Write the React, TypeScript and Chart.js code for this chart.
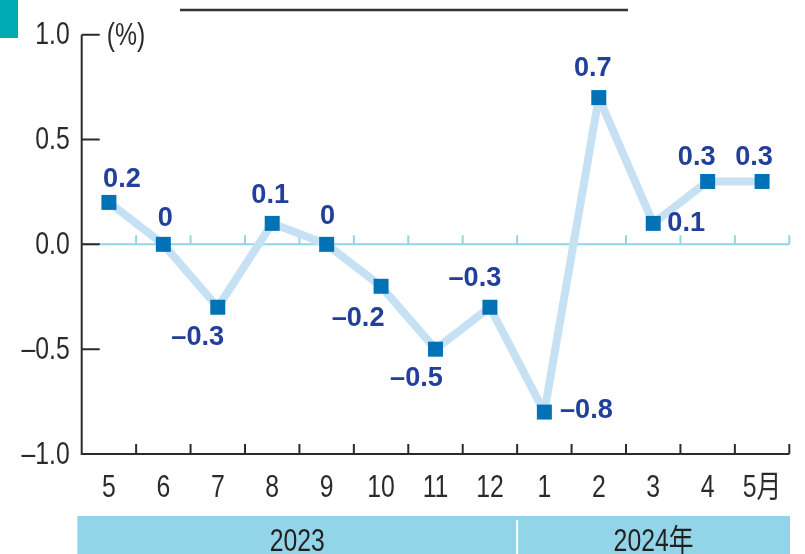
import React, { useEffect, useRef } from "react";
import { Chart, registerables } from "chart.js";

Chart.register(...registerables);

// ---- data ----
const months = ["5", "6", "7", "8", "9", "10", "11", "12", "1", "2", "3", "4", "5月"];
const values = [0.2, 0, -0.3, 0.1, 0, -0.2, -0.5, -0.3, -0.8, 0.7, 0.1, 0.3, 0.3];
const valueLabels = ["0.2", "0", "–0.3", "0.1", "0", "–0.2", "–0.5", "–0.3", "–0.8", "0.7", "0.1", "0.3", "0.3"];
const yTickValues = [-1, -0.5, 0, 0.5, 1];
const yTickLabels = ["–1.0", "–0.5", "0.0", "0.5", "1.0"];
const yearGroups = ["2023", "2024年"];
const yearSpans = [8, 5];
const unitLabel = "(%)";

// ---- label placement (style: offset of label centre from its point) ----
const labelOffsets: [number, number][] = [
  [13, -24], [2, -27], [-20, 29], [-2, -29], [1, -29], [-23, 31], [-19, 28],
  [-15, -30], [42, -3], [-6, -30], [33, -1], [-11, -25], [-8, -25],
];

const AXIS_FONT = "31px 'Liberation Sans', Arial, 'Noto Sans CJK SC', sans-serif";
const VALUE_FONT = "bold 28px 'Liberation Sans', Arial, sans-serif";
const AXIS_COLOR = "#2b2b2b";
const LABEL_COLOR = "#22409a";

function drawText(
  ctx: CanvasRenderingContext2D,
  text: string,
  x: number,
  y: number,
  align: CanvasTextAlign,
  baseline: CanvasTextBaseline,
  font: string,
  color: string,
  sx: number
) {
  ctx.save();
  ctx.font = font;
  ctx.fillStyle = color;
  ctx.textAlign = align;
  ctx.textBaseline = baseline;
  ctx.translate(x, y);
  ctx.scale(sx, 1);
  ctx.fillText(text, 0, 0);
  ctx.restore();
}

const decorPlugin = {
  id: "decor",
  beforeDatasetsDraw(chart: any) {
    const { ctx, chartArea, scales } = chart;
    const x = scales.x;
    const y = scales.y;
    const n = months.length;
    const y0 = y.getPixelForValue(0);
    ctx.save();
    ctx.strokeStyle = "#93d4e7";
    ctx.lineWidth = 2;
    ctx.beginPath();
    ctx.moveTo(chartArea.left, y0);
    ctx.lineTo(chartArea.right, y0);
    for (let i = 1; i <= n; i++) {
      const bx = i < n ? (x.getPixelForValue(i - 1) + x.getPixelForValue(i)) / 2 : chartArea.right;
      ctx.moveTo(bx, y0);
      ctx.lineTo(bx, y0 - 9);
    }
    ctx.stroke();
    ctx.restore();
  },
  afterDraw(chart: any) {
    const { ctx, chartArea, scales } = chart;
    const x = scales.x;
    const y = scales.y;
    const n = months.length;
    ctx.save();
    // axes
    ctx.strokeStyle = AXIS_COLOR;
    ctx.lineWidth = 2;
    ctx.beginPath();
    ctx.moveTo(chartArea.left, y.getPixelForValue(1));
    ctx.lineTo(chartArea.left, chartArea.bottom);
    ctx.lineTo(chartArea.right, chartArea.bottom);
    for (const v of yTickValues) {
      const py = y.getPixelForValue(v);
      ctx.moveTo(chartArea.left, py);
      ctx.lineTo(chartArea.left + 18, py);
    }
    for (let i = 1; i <= n; i++) {
      const bx = i < n ? (x.getPixelForValue(i - 1) + x.getPixelForValue(i)) / 2 : chartArea.right;
      ctx.moveTo(bx, chartArea.bottom);
      ctx.lineTo(bx, chartArea.bottom - 10);
    }
    ctx.stroke();
    ctx.restore();

    // y tick labels
    y.ticks.forEach((t: any) => {
      const idx = yTickValues.indexOf(Number(t.value));
      if (idx < 0) return;
      drawText(ctx, yTickLabels[idx], chartArea.left - 12, y.getPixelForValue(t.value) + 1, "right", "middle", AXIS_FONT, AXIS_COLOR, 0.8);
    });
    // x tick labels
    months.forEach((m, i) => {
      drawText(ctx, m, x.getPixelForValue(i), chartArea.bottom + 43, "center", "alphabetic", AXIS_FONT, AXIS_COLOR, 0.8);
    });

    // unit label
    drawText(ctx, unitLabel, chartArea.left + 25, y.getPixelForValue(1) + 2, "left", "middle", AXIS_FONT, AXIS_COLOR, 0.8);

    // year band
    ctx.save();
    const bandTop = chartArea.bottom + 62;
    const bandLeft = chartArea.left - 4.4;
    const bandRight = chartArea.right + 0.7;
    ctx.fillStyle = "#92d5e8";
    ctx.fillRect(bandLeft, bandTop, bandRight - bandLeft, chart.height - bandTop);
    let start = 0;
    yearGroups.forEach((g, gi) => {
      const end = start + yearSpans[gi];
      const l = gi === 0 ? bandLeft : (x.getPixelForValue(start - 1) + x.getPixelForValue(start)) / 2;
      const r = gi === yearGroups.length - 1 ? bandRight : (x.getPixelForValue(end - 1) + x.getPixelForValue(end)) / 2;
      if (gi > 0) {
        ctx.strokeStyle = "#ffffff";
        ctx.lineWidth = 2;
        ctx.beginPath();
        ctx.moveTo(l, bandTop + 4);
        ctx.lineTo(l, chart.height);
        ctx.stroke();
      }
      drawText(ctx, g, (l + r) / 2, bandTop + 35, "center", "alphabetic", AXIS_FONT, "#231f20", 0.8);
      start = end;
    });

    // title decorations
    ctx.fillStyle = "#00abb5";
    ctx.fillRect(0, 0, 18, 38);
    ctx.strokeStyle = "#333333";
    ctx.lineWidth = 2.5;
    ctx.beginPath();
    ctx.moveTo(180, 10);
    ctx.lineTo(628, 10);
    ctx.stroke();
    ctx.restore();

    // value labels
    const meta = chart.getDatasetMeta(0);
    meta.data.forEach((pt: any, i: number) => {
      const [dx, dy] = labelOffsets[i];
      drawText(ctx, valueLabels[i], pt.x + dx, pt.y + dy + 1, "center", "middle", VALUE_FONT, LABEL_COLOR, 0.97);
    });
  },
};

export default function App() {
  const ref = useRef<HTMLCanvasElement | null>(null);
  useEffect(() => {
    if (!ref.current) return;
    const chart = new Chart(ref.current, {
      type: "line",
      data: {
        labels: months,
        datasets: [
          {
            data: values,
            borderColor: "#c6e0f4",
            borderWidth: 8,
            borderJoinStyle: "round",
            pointStyle: "rect",
            pointRadius: 10.6,
            pointHoverRadius: 10.6,
            pointBackgroundColor: "#0072b5",
            pointBorderWidth: 0,
            tension: 0,
            clip: false as any,
          },
        ],
      },
      options: {
        responsive: false,
        animation: false,
        layout: { padding: { top: 34.7, right: 15.7, left: 0, bottom: 0 } },
        plugins: { legend: { display: false }, tooltip: { enabled: false } },
        scales: {
          x: {
            type: "category",
            offset: true,
            grid: { display: false, drawTicks: false },
            border: { display: false },
            ticks: { display: false, autoSkip: false },
            afterFit: (s: any) => {
              s.height = 100;
            },
          },
          y: {
            min: -1,
            max: 1,
            afterBuildTicks: (s: any) => {
              s.ticks = yTickValues.map((v) => ({ value: v }));
            },
            grid: { display: false, drawTicks: false },
            border: { display: false },
            ticks: { display: false },
            afterFit: (s: any) => {
              s.width = 81.7;
            },
          },
        },
      },
      plugins: [decorPlugin],
    });
    return () => chart.destroy();
  }, []);
  return (
    <div style={{ position: "fixed", left: 0, top: 0, width: 805, height: 554, background: "#fff" }}>
      <canvas ref={ref} width={805} height={554} style={{ display: "block" }} />
    </div>
  );
}
